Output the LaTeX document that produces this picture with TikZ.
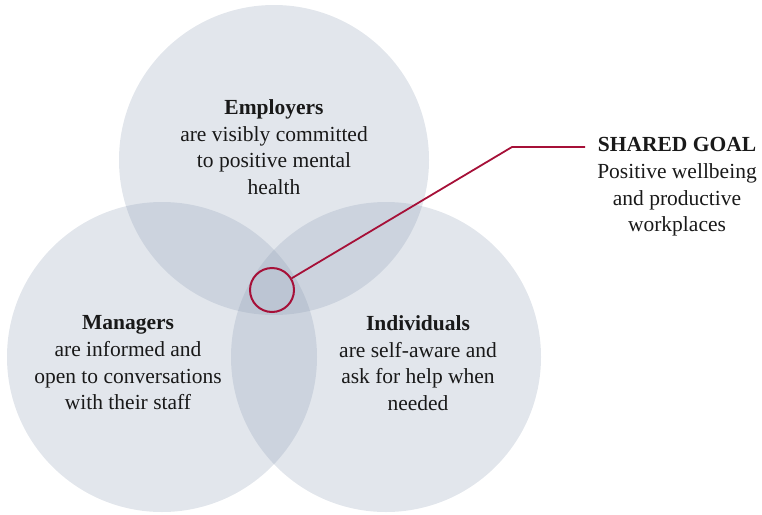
\documentclass[tikz,border=0pt]{standalone}
\usepackage{fontspec}
\setmainfont{Liberation Serif}
\definecolor{circfill}{RGB}{139,155,179}
\definecolor{goalred}{RGB}{166,16,56}
\tikzset{
  venn/.style={circle, fill=circfill, fill opacity=0.25, inner sep=0pt, minimum size=310pt},
  lbl/.style={align=center, font=\fontsize{21.5}{26.7}\selectfont, text=black!90},
  goalcirc/.style={circle, draw=goalred, line width=2pt, inner sep=0pt, minimum size=44pt},
  goalline/.style={draw=goalred, line width=1.8pt}
}
\begin{document}
\begin{tikzpicture}[x=1pt,y=-1pt]
\useasboundingbox (0,0) rectangle (762,514);
\node[venn] (emp) at (274,160) {};
\node[venn] (man) at (162,357) {};
\node[venn] (ind) at (386,357) {};
\node[lbl] (emptxt) at (274,147) {\textbf{Employers}\\are visibly committed\\to positive mental\\health};
\node[lbl] (mantxt) at (128,363) {\textbf{Managers}\\are informed and\\open to conversations\\with their staff};
\node[lbl] (indtxt) at (418,363) {\textbf{Individuals}\\are self-aware and\\ask for help when\\needed};
\node[goalcirc] (goal) at (272,290) {};
\coordinate (bend) at (512,147);
\coordinate (lineend) at (585,147);
\draw[goalline] (goal) -- (bend) -- (lineend);
\node[lbl] (goaltxt) at (677,187) {\textbf{SHARED GOAL}\\Positive wellbeing\\and productive\\workplaces};
\end{tikzpicture}
\end{document}
